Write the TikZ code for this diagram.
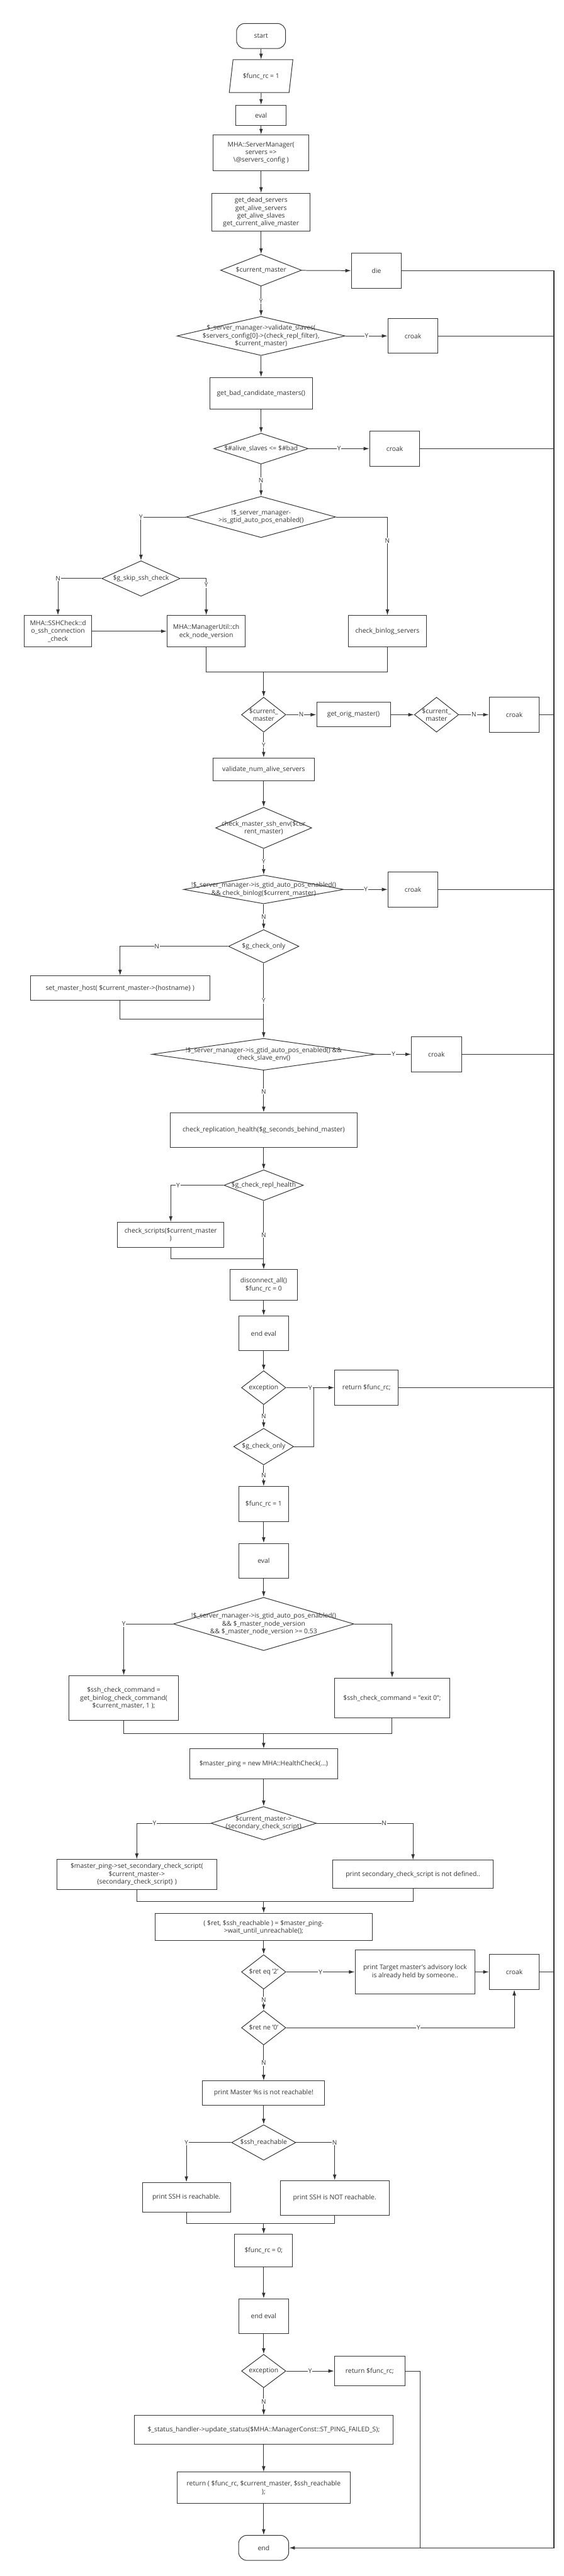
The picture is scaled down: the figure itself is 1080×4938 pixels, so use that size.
\documentclass[tikz,border=0pt]{standalone}
\usepackage{fontspec}
\setmainfont{Open Sans}
\usetikzlibrary{arrows.meta,shapes.geometric}
\definecolor{ln}{HTML}{333333}
\newcommand{\pth}[2]{\path (#1) edge (#2); }
\newcommand{\pthl}[3]{\path (#1) edge node[lbl] {#2} (#3); }
\newcommand{\pthe}[4]{\draw (#1) -| node[lbl,pos=#3] {#2} (#4); }
\newcommand{\pthm}[3]{\draw[-] (#1) |- (#2) -| (#3); }
\newcommand{\pthx}[1]{\draw[-,line width=1.6pt] (#1.east) -- (#1.east -| rail); }

\begin{document}
\begin{tikzpicture}[->,>={Latex[length=11pt,width=7pt]},x=1pt,y=-1pt,line width=1.2pt,draw=ln,
  every node/.style={font=\fontsize{12.5}{15}\selectfont,text=ln,align=center},
  box/.style={rectangle,draw=ln,fill=white,inner sep=2pt},
  term/.style={box,rounded corners=16pt},
  io/.style={trapezium,trapezium stretches=true,trapezium left angle=72,trapezium right angle=108,draw=ln,fill=white,inner sep=2pt},
  dec/.style={diamond,draw=ln,fill=white,inner sep=0pt},
  lbl/.style={fill=white,inner sep=1pt,font=\fontsize{12}{14}\selectfont}]
  \useasboundingbox (0,0) rectangle (1080,4938);
  % main column, first part
  \node[term,minimum width=94,minimum height=48] (start) at (500,69) {start};
  \node[io,minimum width=122,minimum height=63] (rc1) at (500,146) {\$func\_rc = 1};
  \node[box,minimum width=97,minimum height=39] (eval1) at (500,221) {eval};
  \node[box,minimum width=183,minimum height=69] (mgr) at (500,293) {MHA::ServerManager(\\servers =>\\\textbackslash@servers\_config )};
  \node[box,minimum width=188,minimum height=73] (getsrv) at (500,407) {get\_dead\_servers\\get\_alive\_servers\\get\_alive\_slaves\\get\_current\_alive\_master};
  \node[dec,minimum width=155,minimum height=61,label={center:{\$current\_master}}] (cm1) at (500,518) {};
  \node[box,minimum width=96,minimum height=67] (die) at (721,519) {die};
  \node[dec,minimum width=322,minimum height=75,label={center:{\$\_server\_manager->validate\_slaves(\\\$servers\_config[0]->\{check\_repl\_filter\},\\\$current\_master)}}] (vs) at (500,644) {};
  \node[box,minimum width=96,minimum height=67] (croak1) at (791,644) {croak};
  \node[box,minimum width=196,minimum height=61] (badc) at (500,754) {get\_bad\_candidate\_masters()};
  \node[dec,minimum width=181,minimum height=59,label={center:{\$\#alive\_slaves <= \$\#bad}}] (alive) at (500,860) {};
  \node[box,minimum width=96,minimum height=67] (croak2) at (756,860) {croak};
  \node[dec,minimum width=286,minimum height=79,label={center:{!\$\_server\_manager-\\>is\_gtid\_auto\_pos\_enabled()}}] (gtid1) at (500,991) {};
  \node[dec,minimum width=150,minimum height=68,label={center:{\$g\_skip\_ssh\_check}}] (skip) at (270,1109) {};
  \node[box,minimum width=130,minimum height=60] (sshchk) at (111,1210) {MHA::SSHCheck::d\\o\_ssh\_connection\\\_check};
  \node[box,minimum width=150,minimum height=60] (mgrutil) at (395,1210) {MHA::ManagerUtil::ch\\eck\_node\_version};
  \node[box,minimum width=150,minimum height=60] (chkbin) at (742,1210) {check\_binlog\_servers};
  \coordinate (j1) at (505,1288);
  % master check
  \node[dec,minimum width=85,minimum height=67,label={center:{\$current\_\\master}}] (cm2) at (505,1370) {};
  \node[box,minimum width=141,minimum height=47] (orig) at (677,1370) {get\_orig\_master()};
  \node[dec,minimum width=85,minimum height=67,label={center:{\$current\_\\master}}] (cm3) at (836,1370) {};
  \node[box,minimum width=96,minimum height=67] (croak3) at (985,1370) {croak};
  \node[box,minimum width=194,minimum height=44] (numalive) at (505,1475) {validate\_num\_alive\_servers};
  \node[dec,minimum width=184,minimum height=79,label={center:{check\_master\_ssh\_env(\$cur\\rent\_master)}}] (sshenv) at (505,1587) {};
  \node[dec,minimum width=307,minimum height=55,label={center:{!\$\_server\_manager->is\_gtid\_auto\_pos\_enabled()\\\&\& check\_binlog(\$current\_master)}}] (gtid2) at (505,1705) {};
  \node[box,minimum width=96,minimum height=67] (croak4) at (791,1705) {croak};
  \node[dec,minimum width=135,minimum height=64,label={center:{\$g\_check\_only}}] (chkonly) at (505,1814) {};
  \node[box,minimum width=344,minimum height=47] (setmh) at (230,1894) {set\_master\_host( \$current\_master->\{hostname\} )};
  \coordinate (j2) at (505,1954);
  \node[dec,minimum width=428,minimum height=61,label={center:{!\$\_server\_manager->is\_gtid\_auto\_pos\_enabled() \&\&\\check\_slave\_env()}}] (gtid3) at (505,2021) {};
  \node[box,minimum width=96,minimum height=67] (croak5) at (836,2021) {croak};
  \node[box,minimum width=359,minimum height=66] (repl) at (505,2166) {check\_replication\_health(\$g\_seconds\_behind\_master)};
  \node[dec,minimum width=152,minimum height=59,label={center:{\$g\_check\_repl\_health}}] (replh) at (505,2272) {};
  \node[box,minimum width=204,minimum height=48] (scripts) at (327,2367) {check\_scripts(\$current\_master\\)};
  \coordinate (j3) at (505,2413);
  \node[box,minimum width=129,minimum height=58] (disc) at (505,2463) {disconnect\_all()\\\$func\_rc = 0};
  \node[box,minimum width=96,minimum height=67] (endeval1) at (505,2556) {end eval};
  \node[dec,minimum width=85,minimum height=65,label={center:{exception}}] (exc1) at (505,2660) {};
  \node[box,minimum width=122,minimum height=67] (ret1) at (702,2660) {return \$func\_rc;};
  \coordinate (j4) at (601,2660);
  \node[dec,minimum width=115,minimum height=70,label={center:{\$g\_check\_only}}] (chkonly2) at (505,2773) {};
  % ping part
  \node[box,minimum width=96,minimum height=67] (rc2) at (505,2883) {\$func\_rc = 1};
  \node[box,minimum width=96,minimum height=67] (eval2) at (505,2992) {eval};
  \node[dec,minimum width=346,minimum height=102,label={center:{!\$\_server\_manager->is\_gtid\_auto\_pos\_enabled()\\\&\& \$\_master\_node\_version\\\&\& \$\_master\_node\_version >= 0.53}}] (gtid4) at (505,3113) {};
  \node[box,minimum width=210,minimum height=86] (cmd1) at (237,3255) {\$ssh\_check\_command =\\get\_binlog\_check\_command(\\\$current\_master, 1 );};
  \node[box,minimum width=220,minimum height=77] (cmd2) at (751,3255) {\$ssh\_check\_command = "exit 0";};
  \coordinate (j5) at (505,3323);
  \node[box,minimum width=284,minimum height=57] (ping) at (505,3381) {\$master\_ping = new MHA::HealthCheck(...)};
  \node[dec,minimum width=202,minimum height=64,label={center:{\$current\_master->\\\{secondary\_check\_script\}}}] (sec) at (505,3495) {};
  \node[box,minimum width=307,minimum height=57] (setsec) at (262,3593) {\$master\_ping->set\_secondary\_check\_script(\\\$current\_master->\\\{secondary\_check\_script\} )};
  \node[box,minimum width=307,minimum height=54] (nodef) at (791,3593) {print secondary\_check\_script is not defined..};
  \coordinate (j6) at (505,3645);
  \node[box,minimum width=415,minimum height=52] (wait) at (505,3694) {( \$ret, \$ssh\_reachable ) = \$master\_ping-\\>wait\_until\_unreachable();};
  \node[dec,minimum width=85,minimum height=66,label={center:{\$ret eq '2'}}] (reteq) at (505,3780) {};
  \node[box,minimum width=230,minimum height=85] (lock) at (795,3780) {print Target master's advisory lock\\is already held by someone..};
  \node[box,minimum width=96,minimum height=67] (croak6) at (985,3780) {croak};
  \node[dec,minimum width=85,minimum height=66,label={center:{\$ret ne '0'}}] (retne) at (505,3887) {};
  \node[box,minimum width=234,minimum height=46] (notreach) at (505,4012) {print Master \%s is not reachable!};
  \node[dec,minimum width=123,minimum height=68,label={center:{\$ssh\_reachable}}] (sshr) at (505,4107) {};
  \node[box,minimum width=169,minimum height=57] (sshy) at (357,4212) {print SSH is reachable.};
  \node[box,minimum width=209,minimum height=66] (sshn) at (641,4213) {print SSH is NOT reachable.};
  \coordinate (j7) at (505,4262);
  \node[box,minimum width=111,minimum height=62] (rc3) at (505,4314) {\$func\_rc = 0;};
  \node[box,minimum width=96,minimum height=67] (endeval2) at (505,4440) {end eval};
  \node[dec,minimum width=85,minimum height=64,label={center:{exception}}] (exc2) at (505,4545) {};
  \node[box,minimum width=135,minimum height=56] (ret2) at (708,4545) {return \$func\_rc;};
  \node[box,minimum width=496,minimum height=55] (status) at (505,4658) {\$\_status\_handler->update\_status(\$MHA::ManagerConst::ST\_PING\_FAILED\_S);};
  \node[box,minimum width=331,minimum height=60] (retall) at (505,4769) {return ( \$func\_rc, \$current\_master, \$ssh\_reachable\\);};
  \node[term,minimum width=96,minimum height=48] (end) at (505,4884) {end};
  \coordinate (j8) at (805,4884);
  \coordinate (rail) at (1061,4884);

  \pth{start}{rc1}
  \pth{rc1}{eval1}
  \pth{eval1}{mgr}
  \pth{mgr}{getsrv}
  \pth{getsrv}{cm1}
  \pth{cm1}{die}
  \pthl{cm1}{Y}{vs}
  \pthl{vs}{Y}{croak1}
  \pth{vs}{badc}
  \pth{badc}{alive}
  \pthl{alive}{Y}{croak2}
  \pthl{alive}{N}{gtid1}
  \pthe{gtid1.west}{Y}{0.5}{skip.north}
  \pthe{gtid1.east}{N}{0.62}{chkbin.north}
  \pthe{skip.west}{N}{0.5}{sshchk.north}
  \pthe{skip.east}{Y}{0.59}{mgrutil.north}
  \pth{sshchk}{mgrutil}
  \pthm{mgrutil.south}{j1}{chkbin.south}
  \pth{j1}{cm2}
  \pthl{cm2}{N}{orig}
  \pth{orig}{cm3}
  \pthl{cm3}{N}{croak3}
  \pthl{cm2}{Y}{numalive}
  \pth{numalive}{sshenv}
  \pthl{sshenv}{Y}{gtid2}
  \pthl{gtid2}{Y}{croak4}
  \pthl{gtid2}{N}{chkonly}
  \pthe{chkonly.west}{N}{0.33}{setmh.north}
  \pthl{chkonly}{Y}{gtid3}
  \draw[-] (setmh.south) |- (j2);
  \pthl{gtid3}{Y}{croak5}
  \pthl{gtid3}{N}{repl}
  \pth{repl}{replh}
  \pthe{replh.west}{Y}{0.43}{scripts.north}
  \pthl{replh}{N}{disc}
  \draw[-] (scripts.south) |- (j3);
  \pth{disc}{endeval1}
  \pth{endeval1}{exc1}
  \pthl{exc1}{Y}{ret1}
  \draw[-] (chkonly2.east) -| (j4);
  \pthl{exc1}{N}{chkonly2}
  \pthl{chkonly2}{N}{rc2}
  \pth{rc2}{eval2}
  \pth{eval2}{gtid4}
  \pthe{gtid4.west}{Y}{0.5}{cmd1.north}
  \draw (gtid4.east) -| (cmd2.north);
  \pthm{cmd1.south}{j5}{cmd2.south}
  \pth{j5}{ping}
  \pth{ping}{sec}
  \pthe{sec.west}{Y}{0.38}{setsec.north}
  \pthe{sec.east}{N}{0.35}{nodef.north}
  \pthm{setsec.south}{j6}{nodef.south}
  \pth{j6}{wait}
  \pth{wait}{reteq}
  \pthl{reteq}{Y}{lock}
  \pth{lock}{croak6}
  \pthl{reteq}{N}{retne}
  \pthe{retne.east}{Y}{0.29}{croak6.south}
  \pthl{retne}{N}{notreach}
  \pth{notreach}{sshr}
  \pthe{sshr.west}{Y}{0.5}{sshy.north}
  \pthe{sshr.east}{N}{0.5}{sshn.north}
  \pthm{sshy.south}{j7}{sshn.south}
  \pth{j7}{rc3}
  \pth{rc3}{endeval2}
  \pth{endeval2}{exc2}
  \pthl{exc2}{Y}{ret2}
  \pthl{exc2}{N}{status}
  \pth{status}{retall}
  \pth{retall}{end}
  \draw[-] (ret2.east) -| (j8);
  % right rail to end
  \draw[line width=1.6pt] (die.east) -| (rail) -- (end.east);
  \pthx{croak1}
  \pthx{croak2}
  \pthx{croak3}
  \pthx{croak4}
  \pthx{croak5}
  \pthx{ret1}
  \pthx{croak6}
\end{tikzpicture}
\end{document}
